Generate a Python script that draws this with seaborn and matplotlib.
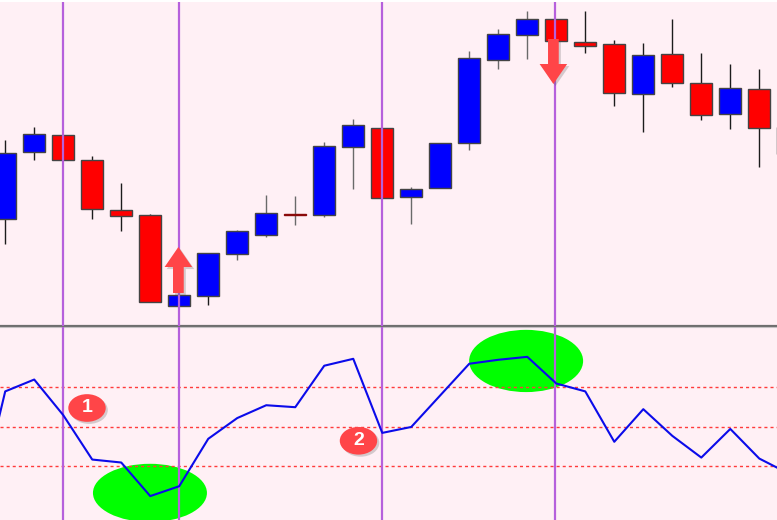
import numpy as np
import pandas as pd
import matplotlib.pyplot as plt
import matplotlib.patheffects as pe
from matplotlib.patches import Ellipse, FancyArrow
import seaborn as sns

# Candles (price scale is arbitrary, 1 unit = 1 px)
bars = list(range(27))
opens = [107, 174, 191, 166, 116, 111, 20, 30, 72, 91, 112, 111, 179, 198, 129, 138, 183, 266, 291, 307, 284, 282, 232, 272, 243, 212, 237]
closes = [173.5, 192, 166.5, 117, 110, 24, 31, 73, 95, 113, 111, 180, 201, 128, 137, 183, 268, 292, 307, 285, 280, 233, 271, 243, 211, 238, 198]
highs = [186, 199, 191, 170, 143, 112, 31, 73, 96, 131, 130, 184, 207, 198, 139, 183, 275, 297, 315, 307, 315, 286, 283, 307, 273, 262, 257]
lows = [82, 166, 166, 107, 95, 24, 20, 21, 66, 89, 101, 109, 137, 128, 102, 138, 176, 257, 267, 285, 273, 220, 194, 239, 206, 197, 159]

# Indicator line, first point is the bar before the left edge
rsi_bars = list(range(-1, 28))
rsi = [6.5, 68, 74, 56, 33.5, 32, 15, 20, 44, 54.5, 61, 60, 81, 84.5, 47, 50, 66, 82, 84, 85.5, 72, 68, 42.5, 59, 45.5, 34.5, 49, 34, 26.5]
rsi_levels = [70, 50, 30]

# Marked bars and annotations
marked_bars = [1.98, 5.98, 12.98, 18.95]
badge_labels = ['1', '2']
badge_x = [2.82, 12.18]
badge_y = [59.6, 43]
green_x = [4.99, 17.96]
green_y = [16.6, 83.4]
green_h = [29.5, 31.5]

BG = '#fff0f5'
PURPLE = '#b660dc'
ARROW = '#ff4548'
XLIM = (-0.18, 26.61)

sns.set_theme(style='white', rc={'axes.facecolor': BG, 'figure.facecolor': 'white'})
plt.rcParams['font.family'] = ['Liberation Sans', 'DejaVu Sans']

fig = plt.figure(figsize=(7.77, 5.2), dpi=100)
ax = fig.add_axes([0, 194 / 520, 1, 324 / 520])
ax2 = fig.add_axes([0, 0, 1, 193 / 520])

df = pd.DataFrame({'bar': bars, 'open': opens, 'close': closes, 'high': highs, 'low': lows})
df['color'] = np.where(df['close'] >= df['open'], '#0000ff', '#ff0000')
# thin doji body reads as a dark red dash
df.loc[10, 'color'] = '#8a0a0a'
df['edge'] = np.where(df['bar'] == 10, '#8a0a0a', '#444444')
# wicks look washed out in the middle of the screenshot
df['wick'] = np.where(df['bar'].between(8, 19), '#6a6a6a', '#1c1c1c')

# Price pane
ax.vlines(df['bar'], df['low'], df['high'], colors=df['wick'], lw=1.0, zorder=2)
ax.bar(df['bar'], df['close'] - df['open'], bottom=df['open'], width=0.76,
       color=df['color'], edgecolor=df['edge'], linewidth=1.0, zorder=3)
ax.vlines([26.6], 172, 199, color='#222222', lw=1.0, zorder=2)
ax.vlines(marked_bars, 0, 324, color=PURPLE, lw=1.6, zorder=4)
ax.set_xlim(XLIM)
ax.set_ylim(0, 324)

# Signal arrows
shadow = [pe.withSimplePatchShadow(offset=(1.5, -1.5), alpha=0.25, shadow_rgbFace='#555555')]
up = FancyArrow(5.97, 33, 0, 46, width=0.37, head_width=0.95, head_length=20,
                length_includes_head=True, color=ARROW, lw=0, zorder=5, path_effects=shadow)
down = FancyArrow(18.9, 287, 0, -45, width=0.37, head_width=0.95, head_length=20,
                  length_includes_head=True, color=ARROW, lw=0, zorder=5, path_effects=shadow)
ax.add_patch(up)
ax.add_patch(down)

# Indicator pane
for x, y, h in zip(green_x, green_y, green_h):
    ax2.add_patch(Ellipse((x, y), 3.93, h, color='#00ff00', lw=0, zorder=1))
for level in rsi_levels:
    ax2.axhline(level, color='#ff3b3b', lw=1.0, ls=(0, (2.2, 2.2)), zorder=2)
ax2.vlines(marked_bars, 0, 101, color=PURPLE, lw=1.6, zorder=3)
sns.lineplot(x=rsi_bars, y=rsi, ax=ax2, color='#0b0bea', lw=1.5, zorder=4)
ax2.set_xlim(XLIM)
ax2.set_ylim(2.9, 100.6)

for label, x, y in zip(badge_labels, badge_x, badge_y):
    ax2.add_patch(Ellipse((x, y), 1.29, 14, color=ARROW, lw=0, zorder=5, path_effects=shadow))
    ax2.text(x, y, label, color='white', fontsize=14, fontweight='bold',
             ha='center', va='center', zorder=6)

for a in (ax, ax2):
    a.set_xticks([])
    a.set_yticks([])
    a.set_xlabel('')
    a.set_ylabel('')
    sns.despine(ax=a, left=True, bottom=True)

# Separator between the panes, with a soft edge under it
ax.spines['bottom'].set_visible(True)
ax.spines['bottom'].set_color('#6e6e6e')
ax.spines['bottom'].set_linewidth(1.6)
ax.spines['bottom'].set_zorder(3.5)
ax2.spines['top'].set_visible(True)
ax2.spines['top'].set_color('#c4c0c2')
ax2.spines['top'].set_linewidth(0.8)

fig.savefig('out.png', dpi=100)
